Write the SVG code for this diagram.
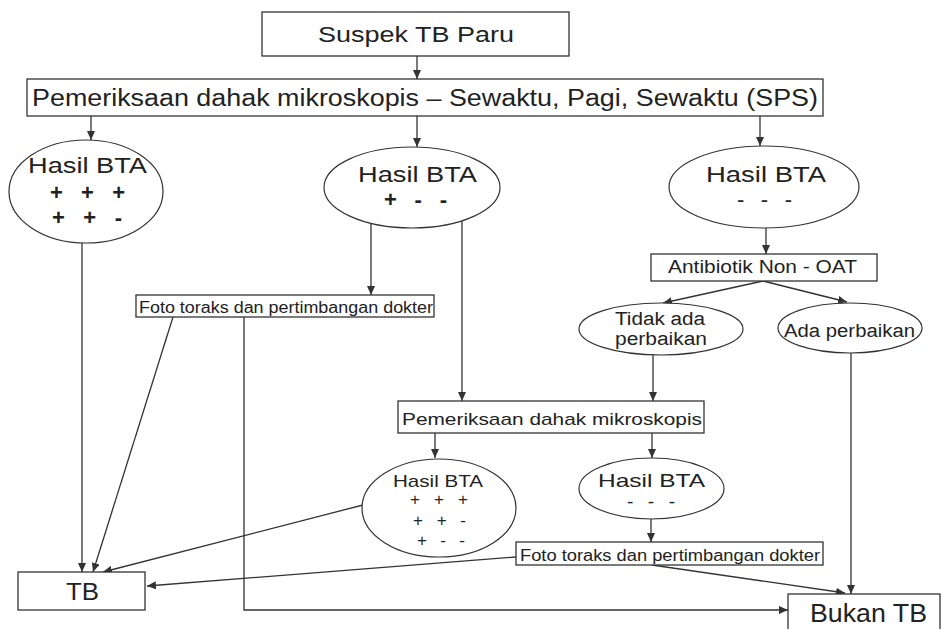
<svg xmlns="http://www.w3.org/2000/svg" width="942" height="629" viewBox="0 0 942 629">
<style>
.box{fill:#fff;stroke:#333;stroke-width:1.3}
.ell{fill:#fff;stroke:#333;stroke-width:1.2}
.t{font-family:"Liberation Sans",Arial,sans-serif;fill:#222}
.c{fill:none;stroke:#333;stroke-width:1.3}
.a{marker-end:url(#ah)}
</style>
<defs>
<marker id="ah" markerUnits="userSpaceOnUse" markerWidth="9" markerHeight="8" refX="9" refY="4" orient="auto">
<path d="M0,0 L9,4 L0,8 z" fill="#333"/>
</marker>
</defs>
<rect width="942" height="629" fill="#fff"/>

<g id="connectors">
<path class="c a" d="M417,56 L417,79"/>
<path class="c a" d="M91,116 L91,140"/>
<path class="c a" d="M417,116 L417,147"/>
<path class="c a" d="M760,116 L760,146"/>
<path class="c a" d="M82,243 L82,572"/>
<path class="c a" d="M371,222 L371,295"/>
<path class="c a" d="M462,221 L462,401"/>
<path class="c a" d="M766,228 L766,254"/>
<path class="c a" d="M763,281 L663,303"/>
<path class="c a" d="M763,281 L847,302"/>
<path class="c a" d="M653,355 L653,401"/>
<path class="c a" d="M851,353 L851,594"/>
<path class="c a" d="M173,317 L93,572"/>
<path class="c a" d="M244,317 L244,610 L788,610"/>
<path class="c a" d="M435,433 L435,458"/>
<path class="c a" d="M652,433 L652,458"/>
<path class="c a" d="M363,505 L103,572"/>
<path class="c a" d="M651,519 L651,542"/>
<path class="c a" d="M516,557 L147,586"/>
<path class="c a" d="M652,565 L845,593"/>
</g>

<g id="suspek">
<rect class="box" x="262" y="12" width="307" height="44"/>
<text class="t" x="318" y="42" font-size="22" textLength="196" lengthAdjust="spacingAndGlyphs">Suspek TB Paru</text>
</g>

<g id="pemeriksaan-sps">
<rect class="box" x="27" y="79" width="796" height="37"/>
<text class="t" x="32" y="106" font-size="23" textLength="786" lengthAdjust="spacingAndGlyphs">Pemeriksaan dahak mikroskopis – Sewaktu, Pagi, Sewaktu (SPS)</text>
</g>

<g id="hasil-positif">
<ellipse class="ell" cx="86" cy="191.5" rx="77" ry="51.5"/>
<text class="t" x="28" y="173" font-size="22" textLength="119" lengthAdjust="spacingAndGlyphs">Hasil BTA</text>
<text class="t" x="50" y="200" font-size="22" font-weight="bold" textLength="75" lengthAdjust="spacing">+ + +</text>
<text class="t" x="52" y="225" font-size="22" font-weight="bold" textLength="70" lengthAdjust="spacing">+ + -</text>
</g>

<g id="hasil-satu-positif">
<ellipse class="ell" cx="412" cy="187.5" rx="88" ry="40.5"/>
<text class="t" x="358" y="182" font-size="22" textLength="119" lengthAdjust="spacingAndGlyphs">Hasil BTA</text>
<text class="t" x="384" y="207" font-size="22" font-weight="bold" textLength="63" lengthAdjust="spacing">+ - -</text>
</g>

<g id="hasil-negatif">
<ellipse class="ell" cx="764" cy="187" rx="95" ry="41"/>
<text class="t" x="706" y="182" font-size="22" textLength="120" lengthAdjust="spacingAndGlyphs">Hasil BTA</text>
<text class="t" x="737" y="207" font-size="22" textLength="55" lengthAdjust="spacing">- - -</text>
</g>

<g id="antibiotik">
<rect class="box" x="651" y="254" width="226" height="27"/>
<text class="t" x="668" y="273" font-size="18" textLength="189" lengthAdjust="spacingAndGlyphs">Antibiotik Non - OAT</text>
</g>

<g id="tidak-ada-perbaikan">
<ellipse class="ell" cx="661" cy="329" rx="82" ry="26"/>
<text class="t" x="615" y="325" font-size="18" textLength="90" lengthAdjust="spacingAndGlyphs">Tidak ada</text>
<text class="t" x="615" y="345" font-size="18" textLength="92" lengthAdjust="spacingAndGlyphs">perbaikan</text>
</g>

<g id="ada-perbaikan">
<ellipse class="ell" cx="850" cy="328" rx="72" ry="25"/>
<text class="t" x="784" y="337" font-size="18" textLength="131" lengthAdjust="spacingAndGlyphs">Ada perbaikan</text>
</g>

<g id="foto-toraks-1">
<rect class="box" x="136" y="295" width="298" height="22"/>
<text class="t" x="139" y="313" font-size="16" textLength="294" lengthAdjust="spacingAndGlyphs">Foto toraks dan pertimbangan dokter</text>
</g>

<g id="pemeriksaan-ulang">
<rect class="box" x="398" y="401" width="306" height="32"/>
<text class="t" x="402" y="425" font-size="17" textLength="300" lengthAdjust="spacingAndGlyphs">Pemeriksaan dahak mikroskopis</text>
</g>

<g id="hasil-ulang-positif">
<ellipse class="ell" cx="439" cy="508" rx="77" ry="49"/>
<text class="t" x="393" y="487" font-size="17" textLength="90" lengthAdjust="spacingAndGlyphs">Hasil BTA</text>
<text class="t" x="410" y="505" font-size="17" textLength="58" lengthAdjust="spacing">+ + +</text>
<text class="t" x="413" y="526" font-size="17" textLength="53" lengthAdjust="spacing">+ + -</text>
<text class="t" x="417" y="546" font-size="17" textLength="48" lengthAdjust="spacing">+ - -</text>
</g>

<g id="hasil-ulang-negatif">
<ellipse class="ell" cx="651.5" cy="488.5" rx="72.5" ry="30.5"/>
<text class="t" x="598" y="487" font-size="19" textLength="107" lengthAdjust="spacingAndGlyphs">Hasil BTA</text>
<text class="t" x="627" y="508" font-size="19" textLength="48" lengthAdjust="spacing">- - -</text>
</g>

<g id="foto-toraks-2">
<rect class="box" x="516" y="542" width="307" height="23"/>
<text class="t" x="520" y="561" font-size="16" textLength="300" lengthAdjust="spacingAndGlyphs">Foto toraks dan pertimbangan dokter</text>
</g>

<g id="tb">
<rect class="box" x="18" y="572" width="127" height="38"/>
<text class="t" x="66" y="600" font-size="24" textLength="33" lengthAdjust="spacingAndGlyphs">TB</text>
</g>

<g id="bukan-tb">
<rect class="box" x="788" y="594" width="152" height="46"/>
<text class="t" x="810" y="622" font-size="25" textLength="117" lengthAdjust="spacingAndGlyphs">Bukan TB</text>
</g>
</svg>
